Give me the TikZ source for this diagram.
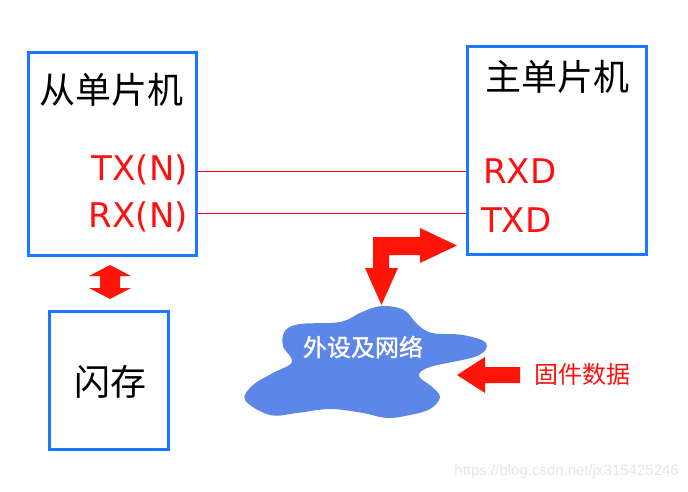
\documentclass[tikz,border=0pt]{standalone}
\usepackage{fontspec}
\setmainfont{DejaVu Sans}
\newfontfamily\cjk{Noto Sans CJK SC}
\newfontfamily\cjkb{Noto Sans CJK SC}[FakeBold=1.3]
\newfontfamily\wm{Liberation Sans}
\definecolor{boxblue}{RGB}{28,120,255}
\definecolor{arrred}{RGB}{255,20,10}
\definecolor{txtred}{RGB}{255,16,16}
\definecolor{cloudblue}{RGB}{92,134,232}
\tikzset{
  unitbox/.style={draw=boxblue, line width=3pt, fill=white, inner sep=0pt},
  cjklabel/.style={inner sep=0pt, font=\cjk\fontsize{36}{36}\selectfont},
  pinlabel/.style={inner sep=0pt, text=txtred, font=\fontsize{34}{34}\selectfont},
  wire/.style={draw=red, line width=0.8pt},
  bigarrow/.style={fill=arrred, draw=none},
}
\begin{document}
\begin{tikzpicture}[x=1pt,y=-1pt]
\useasboundingbox (0,0) rectangle (688,491);
% boxes
\node[unitbox, minimum width=168pt, minimum height=203pt] (slave) at (112,153.5) {};
\node[unitbox, minimum width=179pt, minimum height=208pt] (master) at (556.5,150) {};
\node[unitbox, minimum width=119pt, minimum height=138pt] (flash) at (108.5,380) {};
% titles
\node[cjklabel] (slavet) at (111,90) {从单片机};
\node[cjklabel] (mastert) at (557,77) {主单片机};
\node[cjklabel] (flasht) at (110.5,382) {闪存};
% pins
\node[pinlabel, anchor=base east] (tx) at (188,180) {TX(N)};
\node[pinlabel, anchor=base east] (rx) at (188,227) {RX(N)};
\node[pinlabel, anchor=base west] (rxd) at (483,183) {RXD};
\node[pinlabel, anchor=base west] (txd) at (481,232) {TXD};
% wires
\coordinate (w1) at (0,171.5);
\coordinate (w2) at (0,213);
\draw[wire] (slave.east |- w1) -- (master.west |- w1);
\draw[wire] (slave.east |- w2) -- (master.west |- w2);
% double arrow between slave and flash
\fill[bigarrow] (110,265) -- (131,276) -- (120,276) -- (120,288) -- (131,288) -- (110,299)
  -- (89,288) -- (100,288) -- (100,276) -- (89,276) -- cycle;
% cloud
\fill[cloudblue] plot[smooth cycle, tension=0.6] coordinates {
  (382,306) (404,310) (417,324) (432,333) (463,335) (486,343) (477,356) (430,367) (419,376)
  (431,386) (440,397) (430,409) (410,415) (387,418) (363,413) (330,409) (297,413)
  (270,415) (245,400) (253,385) (273,373) (292,362) (283,346) (285,331) (300,324)
  (340,322) (362,312)};
\node[inner sep=0pt, text=white, font=\cjkb\fontsize{24}{24}\selectfont] (cloudt) at (363,347) {外设及网络};
% bent arrow
\fill[bigarrow] (373,237) -- (420,237) -- (420,228) -- (457,245.5) -- (420,263) -- (420,255)
  -- (389,255) -- (389,268) -- (398,268) -- (381.5,305) -- (365,268) -- (373,268) -- cycle;
% firmware arrow
\fill[bigarrow] (457,375) -- (485,357) -- (485,367) -- (520,367) -- (520,383) -- (485,383)
  -- (485,393) -- cycle;
\node[inner sep=0pt, text=txtred, font=\cjk\fontsize{24}{24}\selectfont, anchor=west] (fw) at (534,374) {固件数据};
% watermark
\node[inner sep=0pt, text=black!10, font=\wm\fontsize{15}{15}\selectfont, anchor=east] (wmk) at (679,472) {https://blog.csdn.net/jx315425246};
\end{tikzpicture}
\end{document}
